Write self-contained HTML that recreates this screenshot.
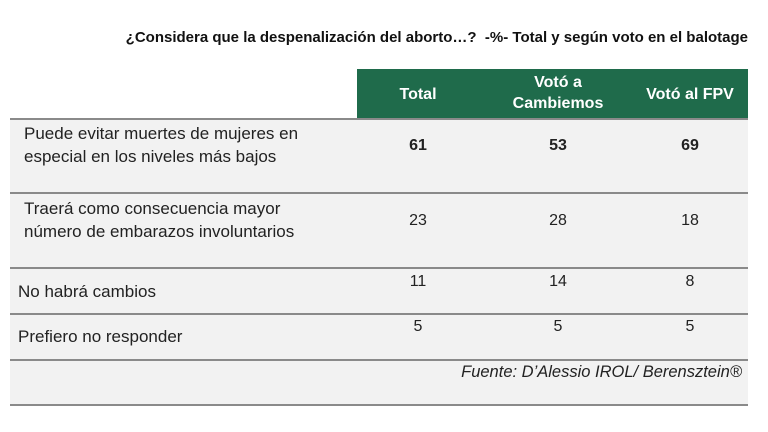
<!DOCTYPE html>
<html><head><meta charset="utf-8"><style>
body{margin:0;width:768px;height:432px;background:#fff;position:relative;overflow:hidden;font-family:"Liberation Sans",sans-serif;color:#222}
.a{position:absolute;white-space:nowrap}
.hl{position:absolute;left:10px;width:738px;height:2px;background:#8a8a8a}
.n{position:absolute;width:100px;text-align:center;font-size:16px}
</style></head><body>
<div class="a" style="right:20px;top:29px;font-size:15px;font-weight:bold;color:#111">¿Considera que la despenalización del aborto…?&nbsp; -%- Total y según voto en el balotage</div>
<div class="a" style="left:357px;top:69px;width:391px;height:49px;background:#1f6b4b"></div>
<div class="a" style="left:10px;top:119px;width:738px;height:286px;background:#f2f2f2"></div>
<div class="a" style="left:368px;top:86px;width:100px;text-align:center;color:#fff;font-weight:bold;font-size:16px">Total</div>
<div class="a" style="left:508px;top:72px;width:100px;text-align:center;color:#fff;font-weight:bold;font-size:16px;line-height:21px;white-space:normal">Votó a<br>Cambiemos</div>
<div class="a" style="left:640px;top:86px;width:100px;text-align:center;color:#fff;font-weight:bold;font-size:16px">Votó al FPV</div>
<div class="hl" style="top:118px"></div>
<div class="hl" style="top:192px"></div>
<div class="hl" style="top:267px"></div>
<div class="hl" style="top:313px"></div>
<div class="hl" style="top:359px"></div>
<div class="hl" style="top:404px"></div>
<div class="a" style="left:24px;top:122px;font-size:17px;line-height:23px">Puede evitar muertes de mujeres en<br>especial en los niveles más bajos</div>
<div class="n" style="left:368px;top:137px;font-weight:bold">61</div>
<div class="n" style="left:508px;top:137px;font-weight:bold">53</div>
<div class="n" style="left:640px;top:137px;font-weight:bold">69</div>
<div class="a" style="left:24px;top:197px;font-size:17px;line-height:23px">Traerá como consecuencia mayor<br>número de embarazos involuntarios</div>
<div class="n" style="left:368px;top:212px">23</div>
<div class="n" style="left:508px;top:212px">28</div>
<div class="n" style="left:640px;top:212px">18</div>
<div class="a" style="left:18px;top:282px;font-size:17px">No habrá cambios</div>
<div class="n" style="left:368px;top:273px">11</div>
<div class="n" style="left:508px;top:273px">14</div>
<div class="n" style="left:640px;top:273px">8</div>
<div class="a" style="left:18px;top:327px;font-size:17px">Prefiero no responder</div>
<div class="n" style="left:368px;top:318px">5</div>
<div class="n" style="left:508px;top:318px">5</div>
<div class="n" style="left:640px;top:318px">5</div>
<div class="a" style="right:26px;top:363px;font-size:16.5px;font-style:italic">Fuente: D’Alessio IROL/ Berensztein®</div>
</body></html>
